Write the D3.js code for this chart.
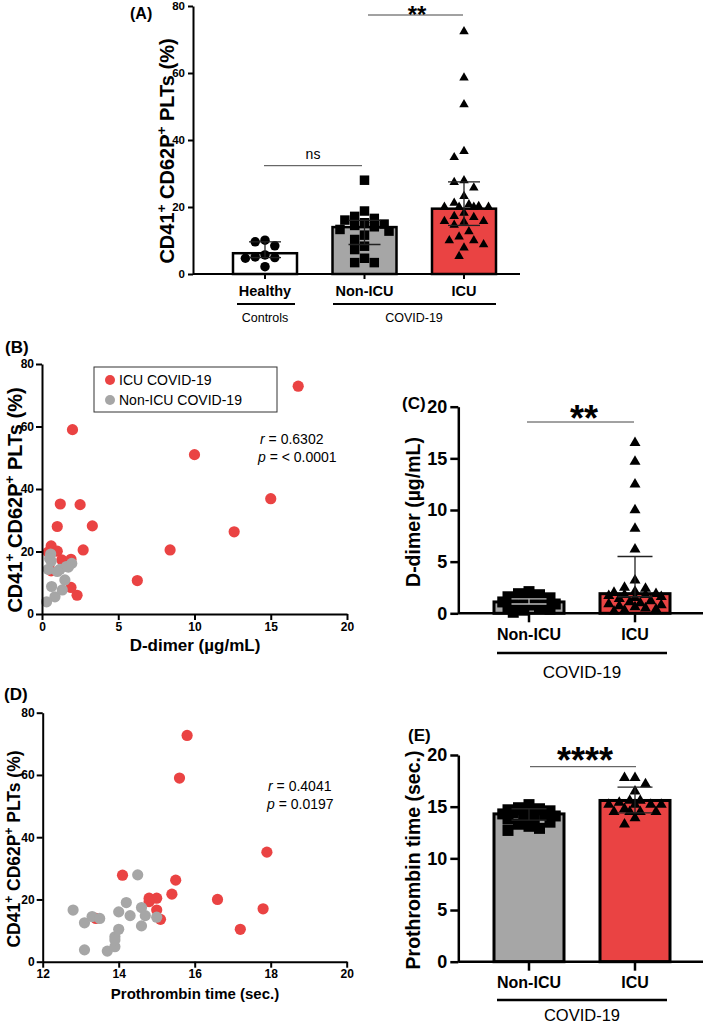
<!DOCTYPE html>
<html><head><meta charset="utf-8">
<script src="https://cdn.jsdelivr.net/npm/d3@7"></script>
<style>body{margin:0;background:#fff}svg{display:block}text{white-space:pre}</style>
</head><body><svg id="c" width="709" height="1026"></svg>
<script>
// ---------- Panel A data ----------
const groupsA = ["Healthy", "Non-ICU", "ICU"];
const barA = [6.2, 14.0, 19.5];
const errLowA = [4.9, 8.8, 14.5];
const errHighA = [9.6, 16.0, 27.5];
const healthyA = [9.6, 8.4, 10.1, 5.7, 4.9, 5.1, 4.7, 2.2];
const nonIcuA = [28.0, 18.8, 17.2, 16.1, 16.6, 14.1, 12.8, 13.3, 14.9, 15.3, 11.6, 10.3, 8.3, 7.3, 4.7, 3.4, 3.4, 14.5];
const icuA = [72.7, 58.9, 50.9, 36.9, 35.1, 28.2, 27.7, 23.5, 26.0, 21.0, 21.5, 20.5, 20.3, 20.3, 20.3, 20.3, 17.5, 17.2, 16.0, 16.0, 15.8, 14.9, 13.0, 10.3, 10.3, 9.1, 11.4, 8.1, 5.6, 18.5];
const yTicksA = [0, 20, 40, 60, 80];

// ---------- Panel B data (D-dimer vs CD62P) ----------
const icuDdimerB = [16.8, 2.0, 10.0, 15.0, 1.2, 2.5, 1.0, 3.3, 12.6, 8.4, 2.7, 0.6, 1.0, 0.4, 6.25, 2.3, 1.9, 1.3, 1.9, 0.6];
const icuPltB = [72.9, 59.0, 51.0, 36.9, 35.2, 35.0, 28.0, 28.2, 26.3, 20.5, 20.5, 21.8, 20.1, 19.8, 10.7, 6.0, 8.5, 17.3, 17.5, 13.8];
const nonIcuDdimerB = [0.57, 0.6, 0.41, 0.63, 0.85, 0.3, 1.18, 1.6, 1.95, 1.5, 1.33, 0.5, 1.73, 1.0];
const nonIcuPltB = [19.2, 16.9, 14.3, 8.8, 5.5, 3.9, 14.3, 15.2, 16.2, 10.9, 7.7, 17.8, 15.0, 13.6];
const xTicksB = [0, 5, 10, 15, 20];
const yTicksB = [0, 20, 40, 60, 80];

// ---------- Panel C data (D-dimer bars) ----------
const groupsCE = ["Non-ICU", "ICU"];
const barC = [1.1, 1.9];
const errLowC = [0.9, 1.6];
const errHighC = [1.4, 5.5];
const nonIcuC = [2.1, 1.9, 1.8, 1.6, 1.5, 1.4, 1.3, 1.2, 1.1, 1.0, 0.9, 0.8, 0.7, 0.6, 0.5, 0.4, 0.3, 0.1];
const icuC = [16.6, 14.8, 12.6, 10.1, 8.3, 6.3, 3.3, 2.6, 2.5, 2.2, 2.1, 2.0, 1.9, 1.9, 1.8, 1.7, 1.6, 1.5, 1.3, 1.2, 1.1, 1.0, 0.9, 0.8, 0.7, 0.6, 0.5, 0.4, 0.3];
const yTicksC = [0, 5, 10, 15, 20];

// ---------- Panel D data (PT vs CD62P) ----------
const icuPtD = [15.8, 15.6, 17.9, 14.1, 15.5, 15.4, 14.8, 15.0, 14.8, 16.6, 17.8, 15.0, 15.1, 17.2, 13.4];
const icuPltD = [72.7, 59.0, 35.2, 27.8, 26.2, 21.7, 20.4, 20.4, 19.3, 20.0, 17.0, 16.6, 13.6, 10.4, 13.9];
const nonIcuPtD = [12.8, 13.1, 13.3, 13.5, 13.1, 13.7, 13.9, 13.9, 13.9, 14.0, 14.0, 14.2, 14.3, 14.5, 14.6, 14.6, 14.7, 15.0];
const nonIcuPltD = [16.6, 12.5, 14.5, 13.9, 3.8, 3.4, 4.8, 8.0, 7.0, 10.4, 16.0, 19.0, 14.8, 27.9, 17.4, 11.5, 14.8, 14.3];
const xTicksD = [12, 14, 16, 18, 20];
const yTicksD = [0, 20, 40, 60, 80];

// ---------- Panel E data (PT bars) ----------
const barE = [14.3, 15.6];
const errLowE = [13.7, 14.4];
const errHighE = [14.8, 16.9];
const nonIcuE = [15.2, 14.9, 14.8, 14.7, 14.6, 14.5, 14.4, 14.3, 14.2, 14.1, 14.0, 13.9, 13.8, 13.5, 13.3, 13.1, 12.9, 12.7];
const icuE = [17.3, 17.9, 17.9, 16.6, 15.7, 15.5, 15.3, 15.3, 15.3, 15.3, 15.7, 14.6, 14.6, 14.6, 14.6, 14.9, 14.0, 13.4];
const yTicksE = [0, 5, 10, 15, 20];

// ---------- styling ----------
const FONT = "'Liberation Sans', Arial, Helvetica, sans-serif";
const RED = "#EA4343", GREY = "#A6A6A6";
const svg = d3.select("#c").attr("font-family", FONT);

function swarm(values, yScale, cx, s, maxHalf) {
  const pts = values.map(v => ({ v, y: yScale(v) })).sort((a, b) => a.y - b.y);
  const cands = [0];
  for (let k = 1; k * s / 2 <= maxHalf; k++) cands.push(-k * s / 2, k * s / 2);
  const placed = [];
  pts.forEach(p => {
    let best = 0, bestD = -1;
    for (const off of cands) {
      let minD = Infinity;
      placed.forEach(q => { const d = Math.hypot(off - q.dx, p.y - q.y); if (d < minD) minD = d; });
      if (minD >= s * 0.97) { best = off; bestD = minD; break; }
      if (minD > bestD) { bestD = minD; best = off; }
    }
    p.dx = best;
    placed.push(p);
  });
  return placed.map(p => ({ x: cx + p.dx, y: p.y }));
}

function supLabel(x, y, fs) {
  const t = svg.append("text")
    .attr("transform", `translate(${x},${y}) rotate(-90)`)
    .attr("text-anchor", "middle").attr("font-weight", "bold").attr("font-size", fs);
  const parts = [["CD41", 0], ["+", 1], [" CD62P", 0], ["+", 1], [" PLTs (%)", 0]];
  let raised = false;
  parts.forEach(([s, sup]) => {
    const ts = t.append("tspan").text(s);
    if (sup) { ts.attr("font-size", fs * 0.68).attr("dy", -fs * 0.42); raised = true; }
    else if (raised) { ts.attr("dy", fs * 0.42); raised = false; }
  });
}

function styleAxis(g, w, fs) {
  g.select(".domain").attr("stroke", "#000").attr("stroke-width", w);
  g.selectAll(".tick line").attr("stroke", "#000").attr("stroke-width", w);
  g.selectAll(".tick text").attr("font-size", fs).attr("font-weight", "bold").attr("fill", "#000").attr("font-family", FONT);
}

function symbolPath(type, size) {
  if (type === "circle") return d3.symbol(d3.symbolCircle, Math.PI * (size / 2) ** 2)();
  if (type === "square") return d3.symbol(d3.symbolSquare, size * size)();
  return d3.symbol(d3.symbolTriangle, size * size * Math.sqrt(3) / 4)();
}

function barPanel(cfg) {
  const { x, y, groups, bars, lo, hi, pts, types, fills, bw, msize, spacing, axisW, yTicks, tickFs, xEnd, capW } = cfg;
  const g = svg.append("g");
  groups.forEach((grp, i) => {
    g.append("rect").attr("x", x(grp) - bw / 2).attr("y", y(bars[i]))
      .attr("width", bw).attr("height", y(0) - y(bars[i]))
      .attr("fill", fills[i]).attr("stroke", "#000").attr("stroke-width", axisW + 0.5);
  });
  groups.forEach((grp, i) => {
    const pos = swarm(pts[i], y, x(grp), spacing, bw / 2 - msize / 2 + 1);
    g.selectAll(null).data(pos).enter().append("path")
      .attr("d", symbolPath(types[i], msize))
      .attr("transform", d => `translate(${d.x},${d.y + (types[i] === "triangle" ? msize * 0.1 : 0)})`)
      .attr("fill", "#000");
  });
  groups.forEach((grp, i) => {
    const cx = x(grp);
    const col = cfg.errColor ? cfg.errColor[i] : "#222";
    g.append("line").attr("x1", cx).attr("x2", cx).attr("y1", y(lo[i])).attr("y2", y(hi[i]))
      .attr("stroke", col).attr("stroke-width", 1.3);
    [lo[i], hi[i]].forEach(v => g.append("line").attr("x1", cx - capW / 2).attr("x2", cx + capW / 2)
      .attr("y1", y(v)).attr("y2", y(v)).attr("stroke", col).attr("stroke-width", 1.3));
  });
  const ya = svg.append("g").attr("transform", `translate(${cfg.axisX},0)`)
    .call(d3.axisLeft(y).tickValues(yTicks).tickSize(cfg.tickLen).tickSizeOuter(0).tickPadding(3));
  styleAxis(ya, axisW, tickFs);
  svg.append("line").attr("x1", cfg.axisX).attr("x2", xEnd).attr("y1", y(0)).attr("y2", y(0))
    .attr("stroke", "#000").attr("stroke-width", axisW);
  groups.forEach(grp => svg.append("line").attr("x1", x(grp)).attr("x2", x(grp))
    .attr("y1", y(0)).attr("y2", y(0) + cfg.xTickLen).attr("stroke", "#000").attr("stroke-width", axisW));
}

// ================= Panel A =================
const xA = d3.scalePoint().domain(groupsA).range([265, 464]);
const yA = d3.scaleLinear().domain([0, 80]).range([274, 6]);
barPanel({ x: xA, y: yA, groups: groupsA, bars: barA, lo: errLowA, hi: errHighA,
  pts: [healthyA, nonIcuA, icuA], types: ["circle", "square", "triangle"], fills: ["#fff", GREY, RED],
  bw: 64, msize: 9.5, spacing: 9.8, axisW: 2, yTicks: yTicksA, tickFs: 11.5, axisX: 193, xEnd: 520,
  capW: 32, tickLen: 5, xTickLen: 5 });
groupsA.forEach(gname => svg.append("text").attr("x", xA(gname)).attr("y", 296).attr("text-anchor", "middle")
  .attr("font-weight", "bold").attr("font-size", 14.5).text(gname));
svg.append("line").attr("x1", 237).attr("x2", 295).attr("y1", 304).attr("y2", 304).attr("stroke", "#000").attr("stroke-width", 2);
svg.append("line").attr("x1", 333).attr("x2", 496).attr("y1", 304).attr("y2", 304).attr("stroke", "#000").attr("stroke-width", 2);
svg.append("text").attr("x", 265).attr("y", 322).attr("text-anchor", "middle").attr("font-size", 12.5).text("Controls");
svg.append("text").attr("x", 414).attr("y", 322).attr("text-anchor", "middle").attr("font-size", 12.5).text("COVID-19");
svg.append("line").attr("x1", 264).attr("x2", 362).attr("y1", 165.7).attr("y2", 165.7).attr("stroke", "#444").attr("stroke-width", 1);
svg.append("text").attr("x", 313).attr("y", 159).attr("text-anchor", "middle").attr("font-size", 14).text("ns");
svg.append("line").attr("x1", 368).attr("x2", 463).attr("y1", 15).attr("y2", 15).attr("stroke", "#444").attr("stroke-width", 1);
svg.append("text").attr("x", 417).attr("y", 22.5).attr("text-anchor", "middle").attr("font-size", 24).attr("font-weight", "bold").text("**");
svg.append("text").attr("x", 130).attr("y", 19).attr("font-size", 16).attr("font-weight", "bold").text("(A)");
supLabel(174, 151, 20);

// ================= Panel B =================
const xB = d3.scaleLinear().domain([0, 20]).range([42, 347]);
const yB = d3.scaleLinear().domain([0, 80]).range([614, 364]);
svg.append("g").selectAll(null).data(icuDdimerB.map((d, i) => [d, icuPltB[i]])).enter().append("circle")
  .attr("cx", d => xB(d[0])).attr("cy", d => yB(d[1])).attr("r", 5.6).attr("fill", RED);
svg.append("g").selectAll(null).data(nonIcuDdimerB.map((d, i) => [d, nonIcuPltB[i]])).enter().append("circle")
  .attr("cx", d => xB(d[0])).attr("cy", d => yB(d[1])).attr("r", 5.6).attr("fill", GREY);
styleAxis(svg.append("g").attr("transform", "translate(42,0)")
  .call(d3.axisLeft(yB).tickValues(yTicksB).tickSize(6).tickSizeOuter(0).tickPadding(2)), 2, 12);
styleAxis(svg.append("g").attr("transform", "translate(0,614)")
  .call(d3.axisBottom(xB).tickValues(xTicksB).tickSize(6).tickSizeOuter(0).tickPadding(2)), 2, 12);
svg.append("text").attr("x", 195).attr("y", 651).attr("text-anchor", "middle").attr("font-weight", "bold")
  .attr("font-size", 17).text("D-dimer (µg/mL)");
supLabel(22, 500, 20);
svg.append("text").attr("x", 5).attr("y", 353).attr("font-size", 17).attr("font-weight", "bold").text("(B)");
svg.append("rect").attr("x", 94).attr("y", 367).attr("width", 183).attr("height", 45)
  .attr("fill", "#fff").attr("stroke", "#333").attr("stroke-width", 1);
[["ICU COVID-19", RED, 380], ["Non-ICU COVID-19", GREY, 400]].forEach(([t, c, yy]) => {
  svg.append("circle").attr("cx", 110).attr("cy", yy).attr("r", 5).attr("fill", c);
  svg.append("text").attr("x", 119).attr("y", yy + 5).attr("font-size", 14).text(t);
});
const rB = svg.append("text").attr("x", 260).attr("y", 444).attr("font-size", 14);
rB.append("tspan").attr("font-style", "italic").text("r");
rB.append("tspan").text(" = 0.6302");
const pB = svg.append("text").attr("x", 258).attr("y", 462).attr("font-size", 14);
pB.append("tspan").attr("font-style", "italic").text("p");
pB.append("tspan").text(" = < 0.0001");

// ================= Panel C =================
const xC = d3.scalePoint().domain(groupsCE).range([529, 635]);
const yC = d3.scaleLinear().domain([0, 20]).range([613.3, 406.7]);
barPanel({ x: xC, y: yC, groups: groupsCE, bars: barC, lo: errLowC, hi: errHighC,
  pts: [nonIcuC, icuC], types: ["square", "triangle"], fills: [GREY, RED],
  bw: 70, msize: 11, spacing: 10.5, axisW: 2.5, yTicks: yTicksC, tickFs: 18, axisX: 458.3, xEnd: 703,
  capW: 35, tickLen: 8, xTickLen: 9, errColor: ["#bbb", "#222"] });
groupsCE.forEach(gname => svg.append("text").attr("x", xC(gname)).attr("y", 640).attr("text-anchor", "middle")
  .attr("font-weight", "bold").attr("font-size", 16).text(gname));
svg.append("line").attr("x1", 497).attr("x2", 667).attr("y1", 653).attr("y2", 653).attr("stroke", "#000").attr("stroke-width", 2.5);
svg.append("text").attr("x", 582).attr("y", 678).attr("text-anchor", "middle").attr("font-size", 17).text("COVID-19");
svg.append("line").attr("x1", 527).attr("x2", 634).attr("y1", 422).attr("y2", 422).attr("stroke", "#444").attr("stroke-width", 1);
svg.append("text").attr("x", 584).attr("y", 431).attr("text-anchor", "middle").attr("font-size", 36).attr("font-weight", "bold").text("**");
svg.append("text").attr("x", 402).attr("y", 409).attr("font-size", 17).attr("font-weight", "bold").text("(C)");
svg.append("text").attr("transform", "translate(420,512) rotate(-90)").attr("text-anchor", "middle")
  .attr("font-weight", "bold").attr("font-size", 19.5).text("D-dimer (µg/mL)");

// ================= Panel D =================
const xD = d3.scaleLinear().domain([12, 20]).range([42.7, 346.7]);
const yD = d3.scaleLinear().domain([0, 80]).range([961.7, 712.7]);
svg.append("g").selectAll(null).data(icuPtD.map((d, i) => [d, icuPltD[i]])).enter().append("circle")
  .attr("cx", d => xD(d[0])).attr("cy", d => yD(d[1])).attr("r", 5.6).attr("fill", RED);
svg.append("g").selectAll(null).data(nonIcuPtD.map((d, i) => [d, nonIcuPltD[i]])).enter().append("circle")
  .attr("cx", d => xD(d[0])).attr("cy", d => yD(d[1])).attr("r", 5.6).attr("fill", GREY);
styleAxis(svg.append("g").attr("transform", "translate(42.7,0)")
  .call(d3.axisLeft(yD).tickValues(yTicksD).tickSize(6).tickSizeOuter(0).tickPadding(2)), 2, 12);
styleAxis(svg.append("g").attr("transform", "translate(0,961.7)")
  .call(d3.axisBottom(xD).tickValues(xTicksD).tickSize(6).tickSizeOuter(0).tickPadding(2)), 2, 12);
svg.append("text").attr("x", 195).attr("y", 999).attr("text-anchor", "middle").attr("font-weight", "bold")
  .attr("font-size", 15).text("Prothrombin time (sec.)");
supLabel(20, 849, 17.5);
svg.append("text").attr("x", 4).attr("y", 700).attr("font-size", 17).attr("font-weight", "bold").text("(D)");
const rD = svg.append("text").attr("x", 268).attr("y", 791).attr("font-size", 14);
rD.append("tspan").attr("font-style", "italic").text("r");
rD.append("tspan").text(" = 0.4041");
const pD = svg.append("text").attr("x", 267).attr("y", 809).attr("font-size", 14);
pD.append("tspan").attr("font-style", "italic").text("p");
pD.append("tspan").text(" = 0.0197");

// ================= Panel E =================
const xE = d3.scalePoint().domain(groupsCE).range([529, 635]);
const yE = d3.scaleLinear().domain([0, 20]).range([961.7, 755]);
barPanel({ x: xE, y: yE, groups: groupsCE, bars: barE, lo: errLowE, hi: errHighE,
  pts: [nonIcuE, icuE], types: ["square", "triangle"], fills: [GREY, RED],
  bw: 70, msize: 11, spacing: 10.5, axisW: 2.5, yTicks: yTicksE, tickFs: 18, axisX: 458.3, xEnd: 703,
  capW: 35, tickLen: 8, xTickLen: 9 });
groupsCE.forEach(gname => svg.append("text").attr("x", xE(gname)).attr("y", 988).attr("text-anchor", "middle")
  .attr("font-weight", "bold").attr("font-size", 16).text(gname));
svg.append("line").attr("x1", 497).attr("x2", 667).attr("y1", 1000).attr("y2", 1000).attr("stroke", "#000").attr("stroke-width", 2.5);
svg.append("text").attr("x", 582).attr("y", 1021).attr("text-anchor", "middle").attr("font-size", 16.5).text("COVID-19");
svg.append("line").attr("x1", 530).attr("x2", 636).attr("y1", 766.7).attr("y2", 766.7).attr("stroke", "#444").attr("stroke-width", 1);
svg.append("text").attr("x", 585).attr("y", 773).attr("text-anchor", "middle").attr("font-size", 36).attr("font-weight", "bold").text("****");
svg.append("text").attr("x", 408).attr("y", 741).attr("font-size", 17).attr("font-weight", "bold").text("(E)");
svg.append("text").attr("transform", "translate(420,860) rotate(-90)").attr("text-anchor", "middle")
  .attr("font-weight", "bold").attr("font-size", 19.5).text("Prothrombin time (sec.)");
</script></body></html>
